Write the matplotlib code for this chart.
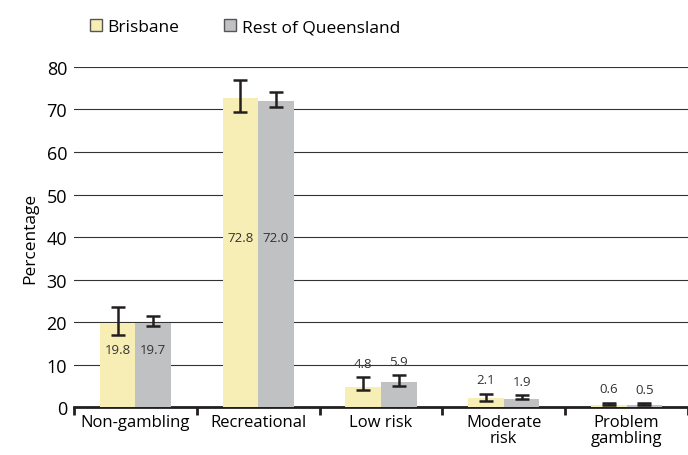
import matplotlib
matplotlib.use('Agg')
import matplotlib.pyplot as plt
import numpy as np
from matplotlib.patches import Patch

plt.rcParams['font.family'] = ['Open Sans', 'DejaVu Sans']

# data
categories = ['Non-gambling', 'Recreational', 'Low risk', 'Moderate\nrisk', 'Problem\ngambling']
brisbane = [19.8, 72.8, 4.8, 2.1, 0.6]
rest_qld = [19.7, 72.0, 5.9, 1.9, 0.5]
brisbane_lo = [17.0, 69.3, 4.0, 1.5, 0.4]
brisbane_hi = [23.5, 77.0, 7.0, 3.2, 1.0]
rest_lo = [19.0, 70.5, 5.0, 1.8, 0.4]
rest_hi = [21.5, 74.0, 7.5, 2.8, 0.9]

c_bris = '#f6eeb4'
c_rest = '#c0c1c3'

fig = plt.figure(figsize=(6.88, 4.56), dpi=100)
ax = fig.add_axes([0.1076, 0.105, 0.8924, 0.746])

x = np.arange(len(categories))
w = 0.29
ax.bar(x - w / 2, brisbane, w, color=c_bris, zorder=2)
ax.bar(x + w / 2, rest_qld, w, color=c_rest, zorder=2)

# error bars
for xs, vals, lo, hi in [(x - w / 2, brisbane, brisbane_lo, brisbane_hi),
                         (x + w / 2, rest_qld, rest_lo, rest_hi)]:
    yerr = [np.array(vals) - np.array(lo), np.array(hi) - np.array(vals)]
    ax.errorbar(xs, vals, yerr=yerr, fmt='none', ecolor='#231f20',
                elinewidth=1.8, capsize=5, capthick=1.8, zorder=3)

# value labels
for i in range(len(categories)):
    for xs, v, hi in [(x[i] - w / 2, brisbane[i], brisbane_hi[i]),
                      (x[i] + w / 2, rest_qld[i], rest_hi[i])]:
        if i == 0:
            ax.text(xs, 13.6, f'{v:.1f}', ha='center', va='center', fontsize=9.5, color='#333333')
        elif i == 1:
            ax.text(xs, 40, f'{v:.1f}', ha='center', va='center', fontsize=9.5, color='#333333')
        else:
            ax.text(xs, hi + 1.8, f'{v:.1f}', ha='center', va='bottom', fontsize=9.5, color='#333333')

ax.set_xlim(-0.5, 4.49)
ax.set_ylim(0, 80)
ax.set_yticks(range(0, 81, 10))
ax.yaxis.grid(True, color='#333333', linewidth=0.8, zorder=0)
ax.tick_params(axis='y', length=0, labelsize=13, pad=5)
ax.set_xticks(x)
ax.set_xticklabels(categories, fontsize=12, linespacing=1.0)
ax.tick_params(axis='x', length=0, pad=5)
ax.set_xticks(np.arange(-0.5, 4.6, 1), minor=True)
ax.tick_params(axis='x', which='minor', length=6, width=2, color='#231f20', direction='out')

for s in ['top', 'right', 'left']:
    ax.spines[s].set_visible(False)
ax.spines['bottom'].set_linewidth(2)
ax.spines['bottom'].set_color('#231f20')
ax.spines['bottom'].set_zorder(1)

ax.set_ylabel('Percentage', fontsize=12.5, labelpad=6)

handles = [Patch(facecolor=c_bris, edgecolor='#555555', label='Brisbane'),
           Patch(facecolor=c_rest, edgecolor='#555555', label='Rest of Queensland')]
fig.legend(handles=handles, loc='upper left', bbox_to_anchor=(0.108, 0.99), ncol=2,
           frameon=False, fontsize=12.5, handlelength=0.7, handleheight=0.7,
           handletextpad=0.3, columnspacing=2.6)

fig.savefig('out.png', dpi=100)
